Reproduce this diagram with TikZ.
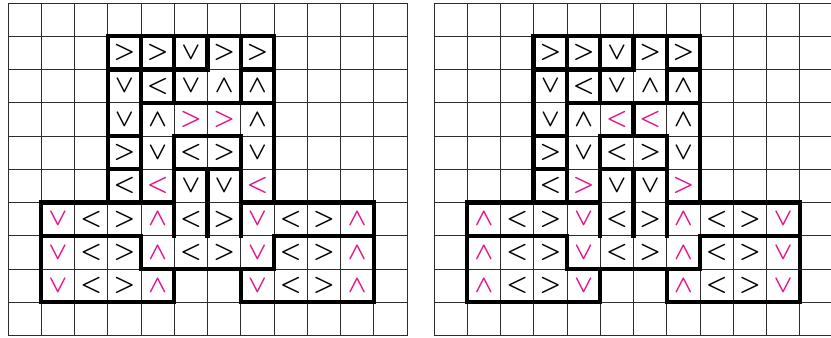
\documentclass[tikz,border=0pt]{standalone}
\usepackage{amsmath}
\usepackage{amssymb}
\usepackage{tikz}
\usetikzlibrary{calc}
\usepackage{xcolor}
\definecolor{arrpink}{RGB}{228, 20, 138}
\definecolor{gridclr}{RGB}{45, 45, 45}
\tikzset{
  % thin background grid
  gridline/.style  = {line width=0.7pt, draw=gridclr},
  % thick region borders
  wall/.style      = {line width=3.8pt, draw=black, line cap=rect},
  % arrow glyphs
  arr/.style       = {font=\fontsize{22}{22}\selectfont\boldmath, inner sep=0pt},
  arrblack/.style  = {arr, text=black},
  arrmark/.style   = {arr, text=arrpink},
}

\begin{document}
\begin{tikzpicture}[x=1cm,y=1cm]
  \useasboundingbox (-0.24,-0.06) rectangle (24.75,10.09);
  \clip (-0.24,-0.06) rectangle (24.75,10.09);
  \foreach \dx/\nm/\sr/\sl/\sd/\su in {0/L/>/</\vee/\wedge, 12.81/R/</>/\wedge/\vee}{
    \begin{scope}[xshift=\dx cm]
      \draw[gridline] (0,0) grid (12,10);
      % black arrows, same in both boards
      \foreach \c/\r/\s in {3/1/>,4/1/>,5/1/\vee,6/1/>,7/1/>,
                            3/2/\vee,4/2/<,5/2/\vee,6/2/\wedge,7/2/\wedge,
                            3/3/\vee,4/3/\wedge,7/3/\wedge,
                            3/4/>,4/4/\vee,5/4/<,6/4/>,7/4/\vee,
                            3/5/<,5/5/\vee,6/5/\vee,
                            2/6/<,3/6/>,5/6/<,6/6/>,8/6/<,9/6/>,
                            2/7/<,3/7/>,5/7/<,6/7/>,8/7/<,9/7/>,
                            2/8/<,3/8/>,8/8/<,9/8/>}
        \node[arrblack] (\nm-\c-\r) at (\c+0.5,9.5-\r) {$\s$};
      % pink arrows, flipped between boards
      \foreach \c/\r/\s in {5/3/\sr,6/3/\sr,4/5/\sl,7/5/\sl,
                            1/6/\sd,4/6/\su,7/6/\sd,10/6/\su,
                            1/7/\sd,4/7/\su,7/7/\sd,10/7/\su,
                            1/8/\sd,4/8/\su,7/8/\sd,10/8/\su}
        \node[arrmark] (\nm-\c-\r) at (\c+0.5,9.5-\r) {$\s$};
      % thick walls: left side of cell c in row r
      \foreach \c/\r in {3/1,4/1,5/1,6/1,7/1,8/1,
                         3/2,4/2,5/2,7/2,8/2,
                         3/3,4/3,8/3,
                         3/4,4/4,5/4,7/4,8/4,
                         3/5,4/5,5/5,6/5,7/5,8/5,
                         1/6,5/6,6/6,7/6,11/6,
                         1/7,4/7,8/7,11/7,
                         1/8,5/8,7/8,11/8}
        \draw[wall] (\c,10-\r) -- (\c,9-\r);
      % thick walls: top side of cell c in row r
      \foreach \c/\r in {3/1,4/1,5/1,6/1,7/1,
                         3/2,4/2,5/2,7/2,
                         4/3,5/3,6/3,7/3,
                         3/4,5/4,6/4,
                         3/5,5/5,6/5,
                         1/6,2/6,3/6,4/6,7/6,8/6,9/6,10/6,
                         1/7,2/7,3/7,8/7,9/7,10/7,
                         4/8,5/8,6/8,7/8,
                         1/9,2/9,3/9,4/9,7/9,8/9,9/9,10/9}
        \draw[wall] (\c,10-\r) -- (\c+1,10-\r);
    \end{scope}
  }
  \draw[wall] (18.81,7) -- (18.81,6);
\end{tikzpicture}
\end{document}
